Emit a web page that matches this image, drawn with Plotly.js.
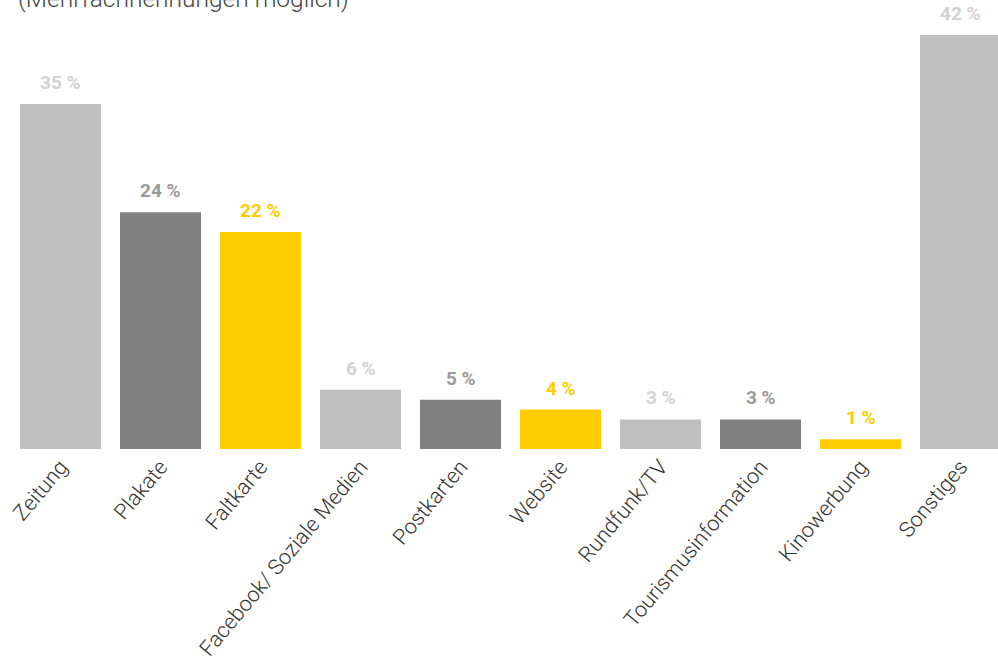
<!DOCTYPE html>
<html><head><meta charset="utf-8">
<script src="https://cdn.plot.ly/plotly-3.0.1.min.js"></script>
<style>html,body{margin:0;padding:0;background:#fff;}#chart{width:998px;height:662px;}</style>
</head><body><div id="chart"></div>
<script>
const categories = ["Zeitung","Plakate","Faltkarte","Facebook/ Soziale Medien","Postkarten","Website","Rundfunk/TV","Tourismusinformation","Kinowerbung","Sonstiges"];
const values = [35,24,22,6,5,4,3,3,1,42];
const barColors = ["#bfbfbf","#808080","#ffcc00","#bfbfbf","#808080","#ffcc00","#bfbfbf","#808080","#ffcc00","#bfbfbf"];
const labelColors = ["#d2d2d2","#9a9a9a","#ffcc00","#d2d2d2","#9a9a9a","#ffcc00","#d2d2d2","#9a9a9a","#ffcc00","#d2d2d2"];
const subtitle = "(Mehrfachnennungen möglich)";

const trace = {
  type: "bar",
  x: categories,
  y: values,
  marker: {color: barColors},
  hoverinfo: "none"
};
const annotations = values.map((v,i)=>({
  x: categories[i], y: v, xref: "x", yref: "y",
  text: v + " %", showarrow: false, yanchor: "bottom", yshift: 8,
  font: {family: "Roboto, sans-serif", size: 19, weight: 700, color: labelColors[i]}
}));
annotations.push({
  xref: "paper", yref: "paper", x: 0.016, y: 1, xanchor: "left", yanchor: "bottom",
  yshift: -15, text: subtitle, showarrow: false,
  font: {family: "Roboto, sans-serif", size: 24.5, weight: 300, color: "#444"}
});
const layout = {
  width: 998, height: 662,
  margin: {l: 0, r: 0, t: 0, b: 213},
  paper_bgcolor: "#fff", plot_bgcolor: "#fff",
  bargap: 0.19,
  showlegend: false,
  xaxis: {
    range: [-0.605, 9.375], tickangle: -50, showgrid: false, zeroline: false,
    showline: false, ticks: "",
    tickfont: {family: "Roboto, sans-serif", size: 21.5, weight: 300, color: "#333"}
  },
  yaxis: {range: [0, 45.54], visible: false, showgrid: false, zeroline: false},
  annotations: annotations
};
Plotly.newPlot("chart", [trace], layout, {displayModeBar: false, staticPlot: true});
</script></body></html>
